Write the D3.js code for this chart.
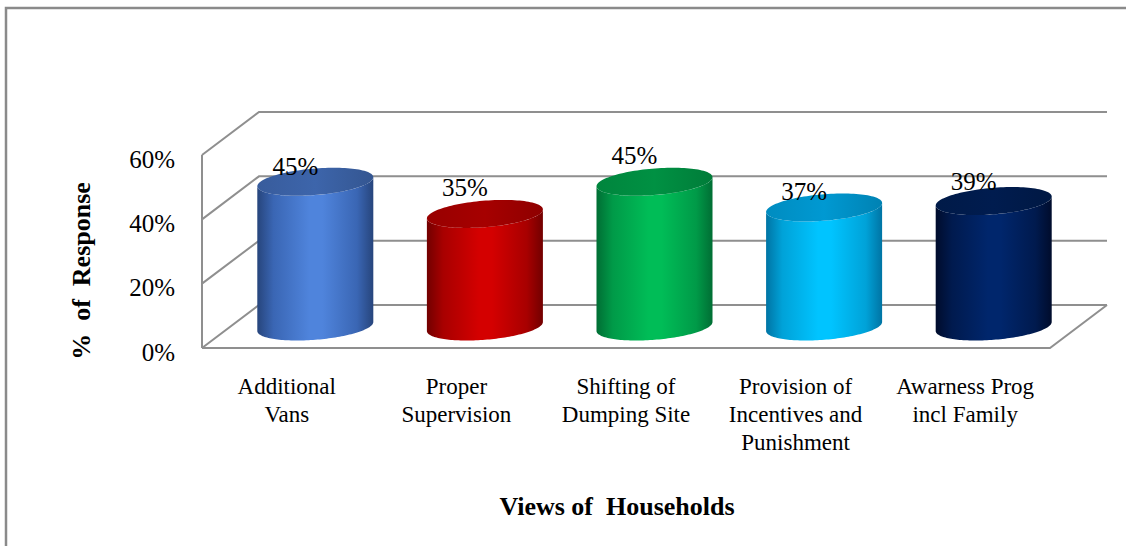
<!DOCTYPE html>
<html>
<head>
<meta charset="utf-8">
<script src="https://cdn.jsdelivr.net/npm/d3@7"></script>
<style>
  html, body { margin: 0; padding: 0; background: #fff; }
  svg { display: block; }
</style>
</head>
<body>
<svg id="chart" width="1126" height="546"></svg>
<script>
// ---- data ----
const categories = [
  "Additional\nVans",
  "Proper\nSupervision",
  "Shifting of\nDumping Site",
  "Provision of\nIncentives and\nPunishment",
  "Awarness Prog\nincl Family"
];
const values = [45, 35, 45, 37, 39];
const yTicks = [0, 20, 40, 60];
const yTickLabels = ["0%", "20%", "40%", "60%"];
const valueLabels = ["45%", "35%", "45%", "37%", "39%"];
const yTitle = "%  of  Response";
const xTitle = "Views of  Households";

// ---- styles ----
const FONT = "Liberation Serif";
const palette = [
  { edge: "#27457c", mid: "#3a66b4", light: "#4f84dc", top: "#385c9c" },
  { edge: "#720000", mid: "#a80000", light: "#d40000", top: "#980000" },
  { edge: "#006e34", mid: "#009a48", light: "#00bd57", top: "#00853d" },
  { edge: "#0074a4", mid: "#00a2d8", light: "#00c4ff", top: "#008cc0" },
  { edge: "#000c2c", mid: "#001a4e", light: "#00266c", top: "#001a48" }
];
const labelRaise = [7, 18, 18, 7, 11];   // baseline offset of each value label above its cylinder top
const gridColor = "#8f8f8f";

// ---- layout ----
const svg = d3.select("#chart");
const plot = { left: 202, right: 1050, bottom: 348, top: 155 };
const depth = { dx: 57, dy: -43 };

const x = d3.scaleBand().domain(categories).range([plot.left, plot.right]).padding(0);
const y = d3.scaleLinear().domain([0, 60]).range([plot.bottom, plot.top]);

// outer frame
svg.append("path")
  .attr("d", `M6,546 V8 H1126`)
  .attr("fill", "none").attr("stroke", "#8a8a8a").attr("stroke-width", 2.5);

// ---- walls: left side wall, back wall gridlines, floor ----
const walls = svg.append("g").attr("fill", "none").attr("stroke", gridColor).attr("stroke-width", 2);
yTicks.forEach(t => {
  const yf = y(t);
  walls.append("path")
    .attr("d", `M${plot.left},${yf} L${plot.left + depth.dx},${yf + depth.dy} H${plot.right + depth.dx}`);
});
walls.append("path").attr("d", `M${plot.left},${y(0)} V${y(60)}`);
walls.append("path")
  .attr("d", `M${plot.left},${y(0)} H${plot.right} L${plot.right + depth.dx},${y(0) + depth.dy}`);

// ---- cylinders ----
const defs = svg.append("defs");
const bw = x.bandwidth();
const R = bw * 0.324;               // radius across the band
const f = 0.326;                    // radius as a fraction of the depth
const a = depth.dx * f, b = -depth.dy * f;
const th0 = Math.atan2(a, R);

function pt(cx, cy, th) {
  return [cx + R * Math.cos(th) + a * Math.sin(th), cy - b * Math.sin(th)];
}
function arc(cx, cy, from, to, n) {
  const pts = [];
  for (let i = 0; i <= n; i++) pts.push(pt(cx, cy, from + (to - from) * i / n));
  return pts;
}
const line = d3.line();

const bars = svg.append("g");
categories.forEach((c, i) => {
  const v = values[i];
  const col = palette[i];
  const cx = x(c) + bw / 2 + depth.dx / 2;
  const cyBase = y(0) + depth.dy / 2;
  const cyTop = y(v) + depth.dy / 2;

  const left = pt(cx, cyTop, th0 + Math.PI);
  const right = pt(cx, cyTop, th0);

  const gid = "body" + i;
  const g = defs.append("linearGradient").attr("id", gid)
    .attr("gradientUnits", "userSpaceOnUse")
    .attr("x1", left[0]).attr("x2", right[0]).attr("y1", 0).attr("y2", 0);
  [[0, col.edge], [0.14, col.mid], [0.45, col.light], [0.56, col.light], [0.86, col.mid], [1, col.edge]]
    .forEach(([o, c2]) => g.append("stop").attr("offset", o).attr("stop-color", c2));

  const tid = "top" + i;
  const tg = defs.append("linearGradient").attr("id", tid)
    .attr("gradientUnits", "userSpaceOnUse")
    .attr("x1", left[0]).attr("x2", right[0]).attr("y1", 0).attr("y2", 0);
  [[0, col.top], [0.5, d3.color(col.top).brighter(0.25)], [1, d3.color(col.top).darker(0.2)]]
    .forEach(([o, c2]) => tg.append("stop").attr("offset", o).attr("stop-color", c2));

  const bottomFront = arc(cx, cyBase, th0 + Math.PI, th0 + 2 * Math.PI, 80);
  const topFront = arc(cx, cyTop, th0 + 2 * Math.PI, th0 + Math.PI, 80);
  const body = [left].concat(bottomFront, topFront);
  bars.append("path").attr("d", line(body) + "Z").attr("fill", `url(#${gid})`);

  const topPts = arc(cx, cyTop, 0, 2 * Math.PI, 120);
  bars.append("path").attr("d", line(topPts) + "Z").attr("fill", `url(#${tid})`);

  // value label
  svg.append("text")
    .attr("x", cx - 20).attr("y", cyTop - labelRaise[i])
    .attr("text-anchor", "middle")
    .style("font-family", FONT).style("font-size", "25px")
    .text(valueLabels[i]);
});

// ---- value axis labels ----
const yAxis = d3.axisLeft(y)
  .tickValues(yTicks)
  .tickFormat((d, i) => yTickLabels[i])
  .tickSize(0).tickPadding(27);
const ya = svg.append("g").attr("transform", `translate(${plot.left},0)`).call(yAxis);
ya.select(".domain").remove();
ya.selectAll("text")
  .style("font-family", FONT).style("font-size", "25px")
  .attr("fill", "#000")
  .attr("dy", "0.48em");

// ---- category labels ----
const cat = svg.append("g");
categories.forEach(c => {
  const t = cat.append("text")
    .attr("x", x(c) + bw / 2)
    .attr("y", 394)
    .attr("text-anchor", "middle")
    .style("font-family", FONT).style("font-size", "23px");
  c.split("\n").forEach((ln, k) => {
    t.append("tspan").attr("x", x(c) + bw / 2).attr("dy", k === 0 ? 0 : 28).text(ln);
  });
});

// ---- titles ----
svg.append("text")
  .attr("x", 617).attr("y", 515)
  .attr("text-anchor", "middle")
  .style("font-family", FONT).style("font-size", "26px").style("font-weight", "bold")
  .style("white-space", "pre")
  .text(xTitle);

svg.append("text")
  .attr("transform", "translate(90,271) rotate(-90)")
  .attr("text-anchor", "middle")
  .style("font-family", FONT).style("font-size", "26px").style("font-weight", "bold")
  .style("white-space", "pre")
  .text(yTitle);
</script>
</body>
</html>
